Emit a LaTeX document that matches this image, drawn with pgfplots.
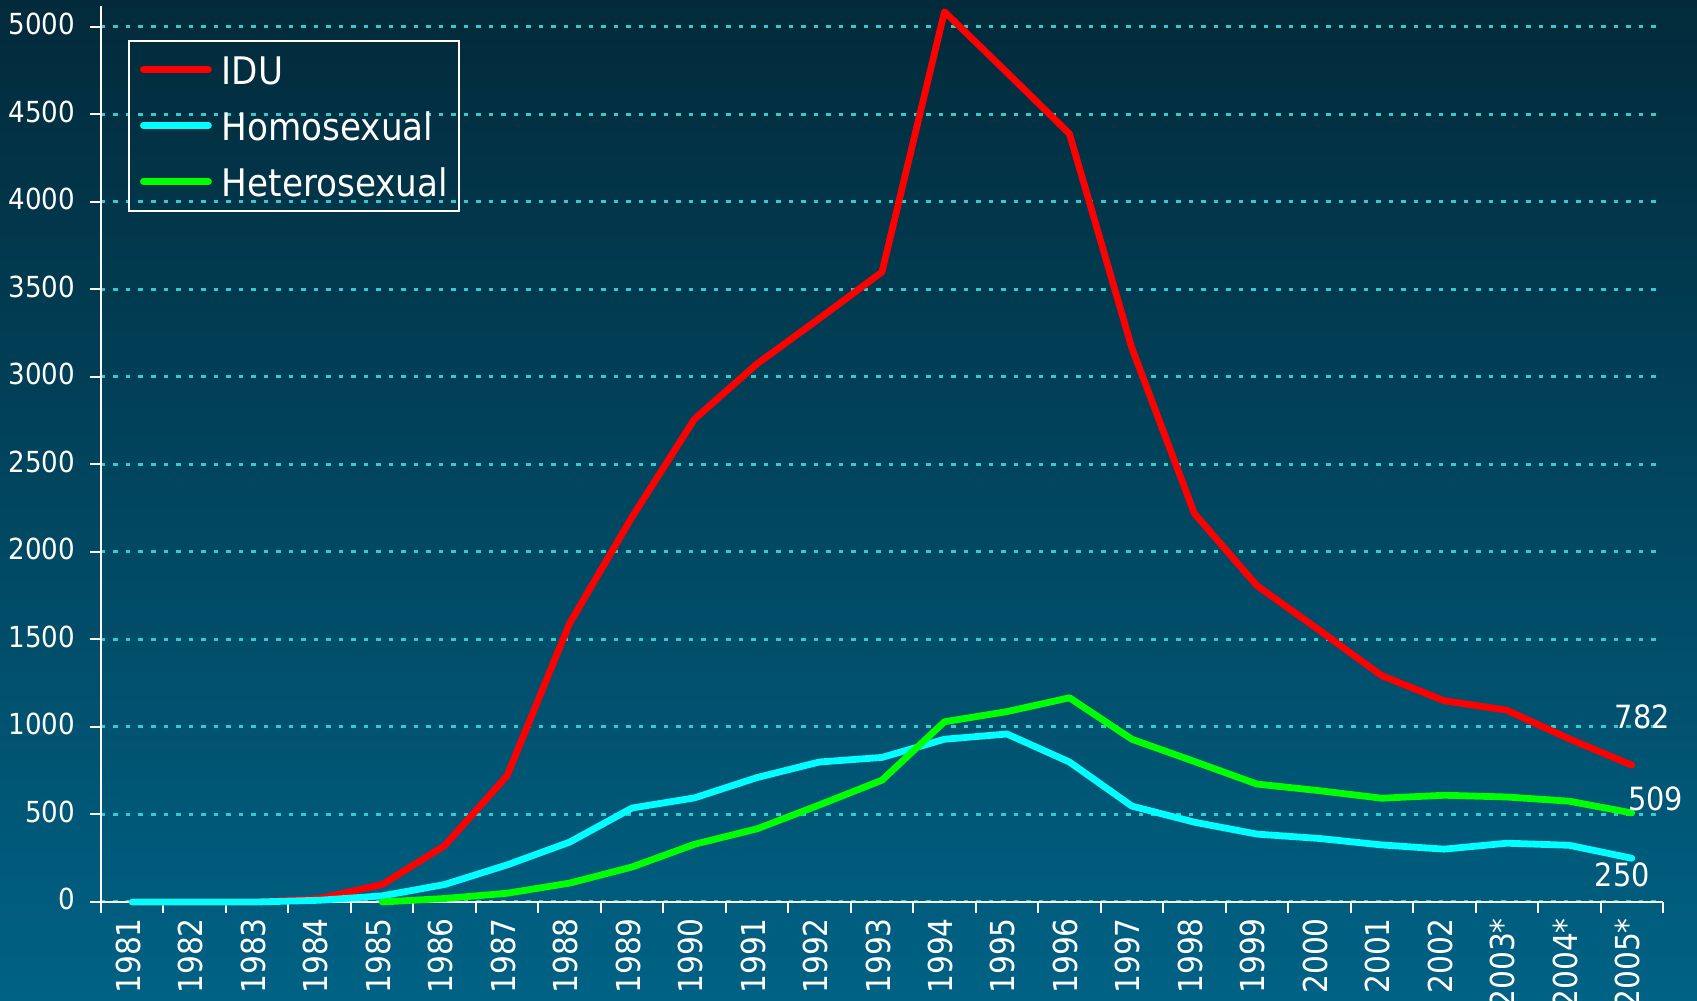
\documentclass[border=0pt]{standalone}
\usepackage{pgfplots}
\pgfplotsset{compat=1.18}
\usepackage{fontspec}
\setmainfont{DejaVu Sans Condensed}
\definecolor{bgtop}{HTML}{022A3A}
\definecolor{bgbot}{HTML}{006285}
\definecolor{gridc}{HTML}{33CCCC}
\definecolor{idu}{HTML}{FF0000}
\definecolor{homo}{HTML}{00FFFF}
\definecolor{hetero}{HTML}{00FF00}
\begin{document}
\begin{tikzpicture}
\shade[top color=bgtop, bottom color=bgbot] (0,0) rectangle (1697pt,1001pt);
\begin{axis}[
  at={(101pt,99pt)}, anchor=south west,
  scale only axis, width=1562pt, height=896pt,
  xmin=-0.5, xmax=24.5, ymin=0, ymax=5120,
  clip=false,
  axis x line=bottom, axis y line=left,
  axis line style={-, white, line width=2pt},
  xtick={-0.5,0.5,...,24.5},
  xticklabels={,,,,,,,,,,,,,,,,,,,,,,,,,},
  extra x ticks={0,...,24},
  extra x tick labels={1981,1982,1983,1984,1985,1986,1987,1988,1989,1990,1991,1992,1993,1994,1995,1996,1997,1998,1999,2000,2001,2002,2003*,2004*,2005*},
  extra x tick style={major tick length=0pt, grid=none},
  ytick={0,500,...,5000},
  tick align=outside,
  major tick length=11pt,
  tick style={white, line width=2pt},
  ymajorgrids=true, xmajorgrids=false,
  major grid style={gridc, line width=3pt, dash pattern=on 4.5pt off 8pt},
  /pgf/number format/1000 sep={},
  /pgf/number format/assume math mode=true,
  yticklabel style={font=\fontsize{29}{30}\selectfont, text=white, inner sep=0pt, xshift=-15pt, yshift=3pt},
  xticklabel style={font=\fontsize{33}{35}\selectfont, text=white, inner sep=0pt, xshift=-4pt, yshift=-16pt, rotate=90, anchor=east},
  legend style={at={(0.0173,0.962)}, anchor=north west, draw=white, line width=2pt, fill=none, text=white,
    font=\fontsize{38}{40}\selectfont, inner xsep=11pt, inner ysep=15pt, row sep=28pt,
    nodes={inner sep=0pt, text height=28pt, text depth=0pt},
    /tikz/every odd column/.append style={column sep=10pt}},
  legend cell align=left,
  legend image code/.code={\draw[#1, line cap=round] (0pt,0.5pt) -- (65pt,0.5pt);},
]
\addplot[idu, line width=6.8pt, line cap=round, line join=round] coordinates {
(0,0) (1,0) (2,0) (3,20) (4,100) (5,322) (6,722) (7,1592) (8,2200) (9,2760)
(10,3075) (11,3335) (12,3600) (13,5087) (14,4740) (15,4390) (16,3165) (17,2220)
(18,1808) (19,1553) (20,1293) (21,1150) (22,1096) (23,932) (24,782)};
\addlegendentry{IDU}
\addplot[homo, line width=6.8pt, line cap=round, line join=round] coordinates {
(0,0) (1,0) (2,0) (3,10) (4,35) (5,100) (6,212) (7,342) (8,537) (9,595)
(10,711) (11,800) (12,826) (13,930) (14,960) (15,800) (16,548) (17,456)
(18,388) (19,363) (20,326) (21,302) (22,336) (23,324) (24,250)};
\addlegendentry{Homosexual}
\addplot[hetero, line width=6.8pt, line cap=round, line join=round] coordinates {
(4,0) (5,20) (6,50) (7,108) (8,200) (9,330) (10,418) (11,555) (12,696) (13,1030)
(14,1088) (15,1167) (16,930) (17,803) (18,674) (19,636) (20,593) (21,610)
(22,600) (23,576) (24,509)};
\addlegendentry{Heterosexual}
\node[text=white, font=\fontsize{32}{34}\selectfont] at (axis cs:24.17,1057) {782};
\node[text=white, font=\fontsize{32}{34}\selectfont] at (axis cs:24.38,589) {509};
\node[text=white, font=\fontsize{32}{34}\selectfont] at (axis cs:23.85,154) {250};
\end{axis}
\pgfresetboundingbox
\path (0,0) rectangle (1697pt,1001pt);
\end{tikzpicture}
\end{document}
